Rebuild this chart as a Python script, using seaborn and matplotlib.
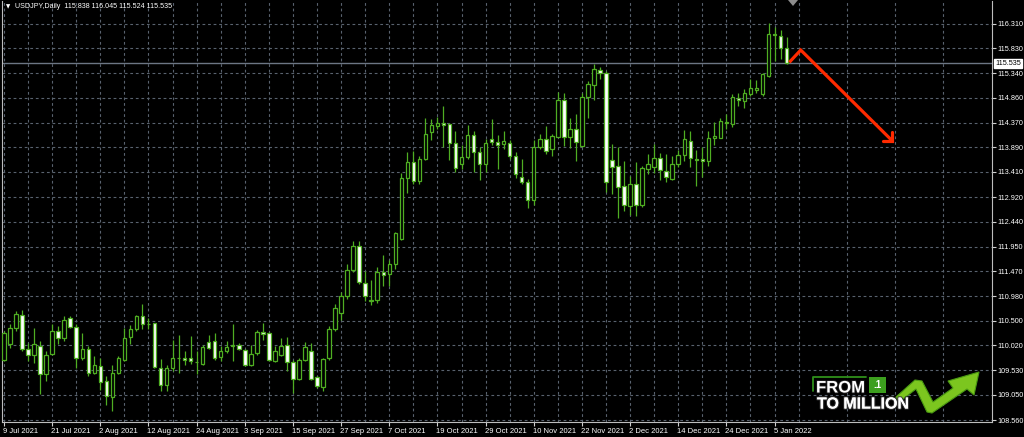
import numpy as np
import pandas as pd
import matplotlib
matplotlib.use("Agg")
import matplotlib.pyplot as plt
import matplotlib.patheffects as pe
from matplotlib.patches import Polygon, Rectangle
from matplotlib.transforms import blended_transform_factory, ScaledTranslation
import seaborn as sns

# USDJPY daily bars, 9 Jul 2021 .. 7 Jan 2022
dates = pd.bdate_range("2021-07-09", "2022-01-07")
opens = [109.74, 110.04, 110.36, 110.62, 109.95, 109.84, 110.00, 109.45, 109.86, 110.30,
         110.17, 110.56, 110.38, 109.77, 109.94, 109.48, 109.62, 109.32, 109.01, 109.48,
         109.74, 110.19, 110.34, 110.59, 110.44, 110.45, 109.57, 109.25, 109.58, 109.77,
         109.77, 109.77, 109.70, 109.66, 110.08, 110.10, 109.79, 109.90, 110.00, 110.02,
         109.92, 109.64, 109.87, 110.28, 110.26, 109.72, 109.84, 110.02, 109.69, 109.36,
         109.74, 109.90, 109.40, 109.21, 109.77, 110.34, 110.65, 110.98, 111.49, 111.96,
         111.24, 110.88, 110.90, 111.46, 111.42, 111.61, 112.10, 113.29, 113.60, 113.23,
         113.66, 114.19, 114.30, 114.37, 114.34, 113.98, 113.56, 113.70, 114.14, 113.81,
         113.56, 114.06, 113.99, 113.95, 113.98, 113.73, 113.31, 113.21, 112.87, 113.90,
         114.06, 113.86, 114.10, 114.81, 114.10, 114.25, 113.92, 114.87, 115.11, 115.41,
         115.35, 113.65, 113.52, 113.13, 112.75, 113.17, 112.77, 113.47, 113.51, 113.68,
         113.43, 113.28, 113.56, 113.74, 114.02, 113.66, 113.67, 113.62, 114.07, 114.08,
         114.39, 114.34, 114.865, 114.79, 114.93, 115.02, 114.93, 115.29, 116.11, 116.07,
         115.838]
highs = [110.30, 110.43, 110.69, 110.71, 110.07, 110.36, 110.10, 109.90, 110.43, 110.39,
         110.60, 110.60, 110.43, 110.26, 110.00, 109.81, 109.77, 109.42, 109.64, 109.81,
         110.36, 110.41, 110.62, 110.82, 110.56, 110.46, 109.75, 109.64, 110.13, 110.23,
         109.90, 110.20, 109.90, 110.03, 110.23, 110.26, 110.00, 110.10, 110.43, 110.07,
         109.95, 110.03, 110.32, 110.46, 110.28, 110.01, 110.17, 110.18, 109.74, 109.77,
         110.09, 110.07, 109.42, 109.77, 110.39, 110.82, 111.06, 111.61, 112.07, 112.07,
         111.48, 111.29, 111.55, 111.79, 111.68, 112.23, 113.40, 113.80, 113.83, 113.73,
         114.47, 114.45, 114.48, 114.71, 114.37, 114.21, 113.93, 114.32, 114.22, 113.90,
         114.06, 114.45, 114.14, 114.21, 114.03, 113.80, 113.67, 113.28, 114.03, 114.16,
         114.30, 114.16, 114.97, 114.96, 114.47, 114.54, 114.96, 115.19, 115.52, 115.46,
         115.39, 113.95, 113.89, 113.63, 113.34, 113.60, 113.53, 113.77, 113.95, 113.79,
         113.77, 113.72, 113.84, 114.23, 114.22, 113.84, 113.89, 114.21, 114.38, 114.46,
         114.54, 114.93, 114.96, 115.03, 115.22, 115.20, 115.35, 116.33, 116.24, 116.18,
         116.045]
lows = [109.71, 109.97, 110.30, 109.90, 109.71, 109.68, 109.06, 109.32, 109.84, 110.04,
        110.10, 110.36, 109.58, 109.74, 109.43, 109.45, 109.15, 108.86, 108.73, 109.45,
        109.71, 110.04, 110.30, 110.33, 110.33, 109.58, 109.12, 109.12, 109.51, 109.48,
        109.64, 109.66, 109.45, 109.64, 109.94, 109.74, 109.71, 109.87, 109.71, 109.92,
        109.61, 109.61, 109.84, 110.13, 109.71, 109.69, 109.81, 109.51, 109.09, 109.34,
        109.72, 109.34, 109.19, 109.12, 109.74, 110.30, 110.52, 110.93, 111.45, 111.22,
        110.89, 110.81, 110.85, 111.18, 111.19, 111.51, 112.08, 113.00, 113.17, 113.18,
        113.64, 114.03, 114.25, 113.90, 113.64, 113.41, 113.47, 113.67, 113.41, 113.25,
        113.41, 113.94, 113.47, 113.86, 113.67, 113.30, 113.18, 112.71, 112.76, 113.86,
        113.77, 113.72, 114.09, 113.92, 113.87, 113.63, 113.90, 114.47, 114.81, 115.22,
        113.01, 112.98, 112.52, 112.65, 112.57, 112.55, 112.72, 113.38, 113.40, 113.26,
        113.21, 113.26, 113.51, 113.63, 113.50, 113.14, 113.31, 113.53, 113.94, 114.07,
        114.25, 114.29, 114.70, 114.66, 114.90, 114.96, 114.90, 115.27, 115.58, 115.61,
        115.524]
closes = [110.26, 110.36, 110.64, 109.94, 109.83, 110.04, 109.45, 109.84, 110.30, 110.17,
          110.51, 110.38, 109.77, 109.94, 109.47, 109.64, 109.30, 109.02, 109.48, 109.77,
          110.17, 110.34, 110.59, 110.43, 110.43, 109.60, 109.25, 109.58, 109.77, 109.78,
          109.73, 109.71, 109.69, 109.99, 109.97, 109.77, 109.90, 109.99, 110.03, 109.94,
          109.64, 109.85, 110.28, 110.25, 109.74, 109.90, 110.00, 109.69, 109.36, 109.74,
          109.99, 109.36, 109.22, 109.75, 110.34, 110.75, 110.98, 111.49, 111.96, 111.25,
          110.99, 110.91, 111.45, 111.40, 111.61, 112.22, 113.30, 113.60, 113.24, 113.66,
          114.16, 114.32, 114.37, 114.32, 113.98, 113.49, 113.70, 114.14, 113.81, 113.57,
          113.98, 113.99, 113.94, 114.01, 113.73, 113.38, 113.21, 112.87, 113.90, 114.06,
          113.83, 114.12, 114.82, 114.10, 114.25, 114.00, 114.87, 115.13, 115.42, 115.35,
          113.21, 113.51, 113.12, 112.77, 113.17, 112.77, 113.48, 113.56, 113.68, 113.45,
          113.32, 113.56, 113.74, 114.05, 113.69, 113.65, 113.62, 114.07, 114.12, 114.40,
          114.36, 114.88, 114.81, 114.96, 115.05, 115.06, 115.32, 116.11, 116.08, 115.84,
          115.535]

price_ticks = [116.310, 115.830, 115.340, 114.860, 114.370, 113.890, 113.410, 112.920,
               112.440, 111.950, 111.470, 110.980, 110.500, 110.020, 109.530, 109.050, 108.560]
last_price = 115.535
header = "USDJPY,Daily  115.838 116.045 115.524 115.535"

# hand drawn red arrow (bar index, price)
arrow_x = [130.45, 132.35, 147.55]
arrow_y = [115.555, 115.795, 114.02]

GREEN = "#4fae22"
GRID = "#59626e"
SMALL = ["Liberation Sans", "DejaVu Sans"]
W, H = 1024, 437

sns.set_style("dark", {"axes.facecolor": "black", "figure.facecolor": "black"})
plt.rcParams['font.family'] = SMALL

fig = plt.figure(figsize=(W / 100, H / 100), dpi=100)
ax = fig.add_axes([2 / W, 15 / H, 990 / W, 421 / H])
ax.set_facecolor("black")

o = np.array(opens)
c = np.array(closes)
x = np.arange(len(o))
up = c > o
dn = c < o
flat = c == o

#1. candles
ax.vlines(x, lows, highs, color=GREEN, lw=0.9, zorder=3)
bottom = np.minimum(o, c)
height = np.abs(c - o)
ax.bar(x[up], height[up], bottom=bottom[up], width=0.58, color="black",
       edgecolor=GREEN, linewidth=0.9, zorder=4)
ax.bar(x[dn], height[dn], bottom=bottom[dn], width=0.58, color="white",
       edgecolor=GREEN, linewidth=0.9, zorder=4)
ax.hlines(o[flat], x[flat] - 0.35, x[flat] + 0.35, color=GREEN, lw=0.9, zorder=4)

#2. last price line
ax.axhline(last_price, color="#6c7684", lw=1.0, zorder=2)

#3. red arrow
ax.plot(arrow_x, arrow_y, color="#ff2a00", lw=2.3, solid_capstyle="butt",
        solid_joinstyle="miter", zorder=6)
ax.plot([arrow_x[-1] - 1.5, arrow_x[-1], arrow_x[-1]],
        [arrow_y[-1], arrow_y[-1], arrow_y[-1] + 0.18],
        color="#ff2a00", lw=2.3, solid_joinstyle="miter", zorder=6)

#4. axes, grid, ticks
ax.set_xlim(-0.33, 164.12)
ax.set_ylim(108.521, 116.754)
ax.set_yticks(price_ticks)
ax.set_yticklabels([f"{p:.3f}" for p in price_ticks])
ax.yaxis.tick_right()
lab_idx = np.arange(0, len(dates), 8)
ax.set_xticks(lab_idx)
ax.set_xticklabels([f"{d.day} {d.strftime('%b %Y')}" for d in dates[lab_idx]],
                   ha="left")
ax.set_xticks(np.arange(4, 164, 8), minor=True)
ax.grid(True, which="both", color=GRID, linestyle=(0, (2.5, 2.5)), linewidth=0.8, zorder=1)
ax.set_axisbelow(True)
ax.tick_params(axis="y", colors="#cfcfcf", labelcolor="white", labelsize=5.2,
               length=3, width=0.8, pad=1, right=True, left=False)
ax.tick_params(axis="x", which="major", colors="#cfcfcf", labelcolor="white",
               labelsize=5.5, length=3, width=0.8, pad=1.5, bottom=True)
ax.tick_params(axis="x", which="minor", length=0)
for s in ["left", "right", "bottom"]:
    ax.spines[s].set_color("#bdbdbd")
    ax.spines[s].set_linewidth(0.8)
ax.spines["top"].set_visible(False)
for lab in ax.get_xticklabels():
    lab.set_transform(lab.get_transform() + ScaledTranslation(-1 / 100, 0, fig.dpi_scale_trans))

# last price box on the scale
tr = blended_transform_factory(ax.transAxes, ax.transData)
ax.text(1.003, last_price, f"{last_price:.3f}", transform=tr, ha="left", va="center",
        fontsize=5.2, color="black", zorder=10, clip_on=False,
        bbox=dict(boxstyle="square,pad=0.15", fc="white", ec="white"))

#5. header and markers (figure pixel coords)
def fx(px):
    return px / W

def fy(py):
    return 1 - py / H

fig.text(fx(6), fy(7), "\u25BC", color="white", fontsize=4, ha="left", va="center",
         family="DejaVu Sans")
fig.text(fx(15), fy(7), header, color="white", fontsize=5.1, ha="left", va="center")
fig.patches.append(Polygon([(fx(788), fy(0)), (fx(798), fy(0)), (fx(793), fy(6))],
                           closed=True, transform=fig.transFigure, fc="#8c8c8c", ec="none"))

#6. logo
fig.lines.append(matplotlib.lines.Line2D([fx(813), fx(813), fx(866)], [fy(391), fy(377), fy(377)],
                                         transform=fig.transFigure, color="#2f8f1a", lw=1.3))
fig.text(fx(816), fy(388), "FROM", color="white", fontsize=12, fontweight="bold",
         ha="left", va="center",
         path_effects=[pe.withStroke(linewidth=1.2, foreground="#222222")])
fig.patches.append(Rectangle((fx(869), fy(393)), 17 / W, 16 / H, transform=fig.transFigure,
                             fc="#3c9f1e", ec="none"))
fig.text(fx(877.5), fy(385.5), ".1", color="white", fontsize=7, fontweight="bold",
         ha="center", va="center")
fig.text(fx(817), fy(404), "TO MILLION", color="white", fontsize=11.5, fontweight="bold",
         ha="left", va="center",
         path_effects=[pe.withStroke(linewidth=1.6, foreground="#333333"), pe.Normal()])
arrow_pts = [(896, 397), (915, 380), (922, 381), (933, 402), (953, 388), (948, 381),
             (979, 372), (974, 395), (967, 389), (932, 413), (927, 412), (916, 389), (899, 402)]
fig.patches.append(Polygon([(fx(a), fy(b)) for a, b in arrow_pts], closed=True,
                           transform=fig.transFigure, fc="#7cc61f", ec="#4a9a12", lw=0.8))

fig.savefig("out.png", dpi=100, facecolor="black")
